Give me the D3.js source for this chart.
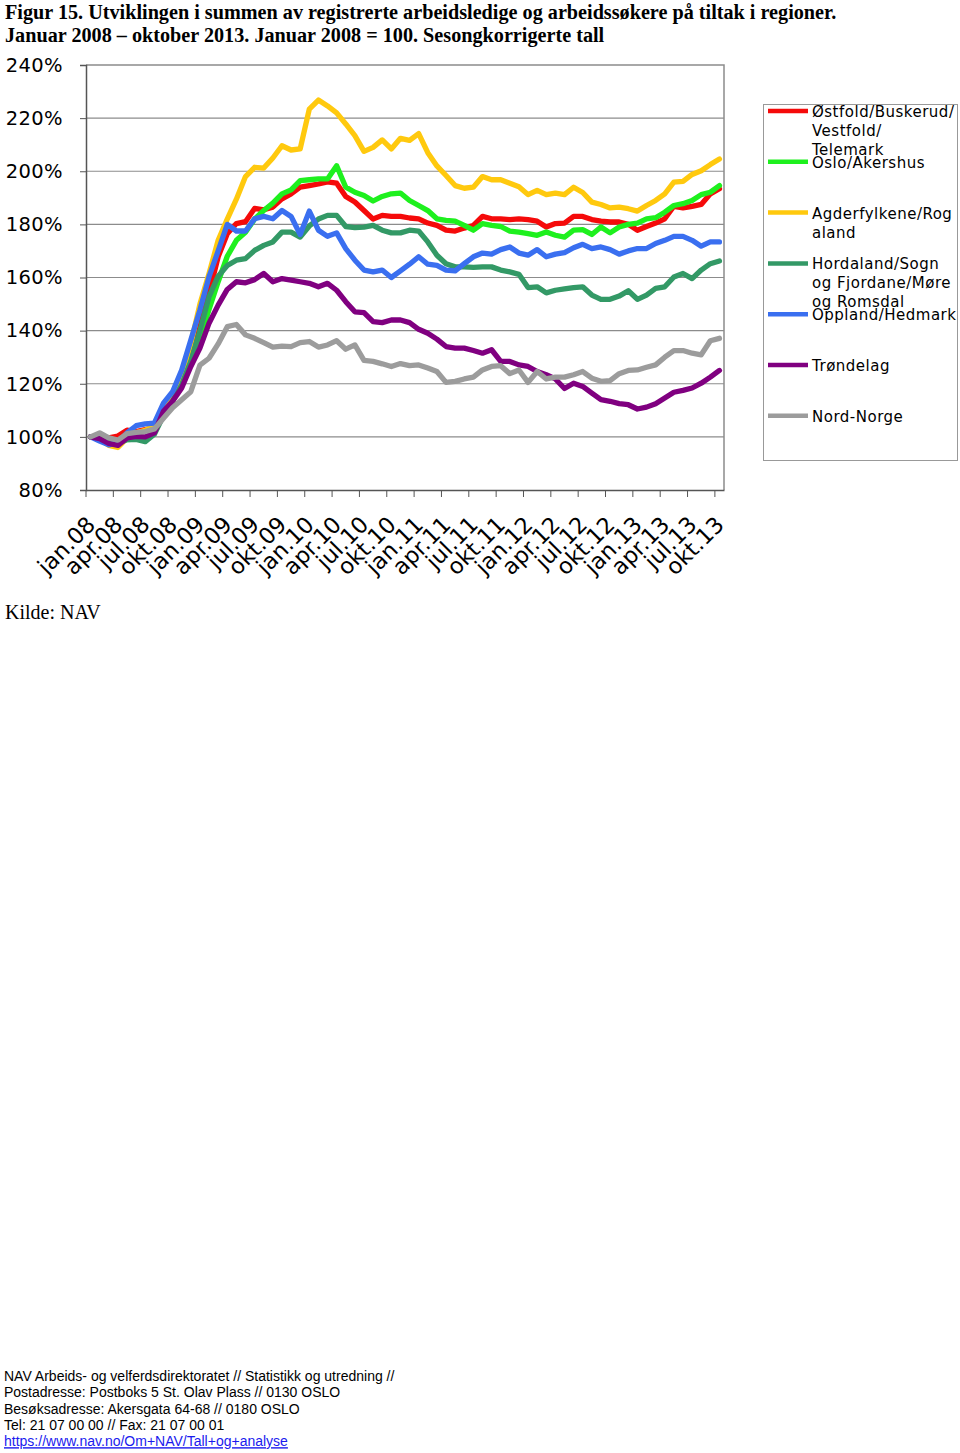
<!DOCTYPE html>
<html>
<head>
<meta charset="utf-8">
<script src="https://cdn.jsdelivr.net/npm/d3@7"></script>
<style>
  html, body { margin: 0; padding: 0; background: #fff; }
  svg { display: block; }
</style>
</head>
<body>
<script>
// ---------- DATA ----------
const monthNames = ["jan","feb","mar","apr","mai","jun","jul","aug","sep","okt","nov","des"];
const categories = [];
for (let yr = 8; yr <= 13; yr++) {
  for (let m = 0; m < 12; m++) {
    if (yr === 13 && m > 9) break;
    categories.push(monthNames[m] + "." + String(yr).padStart(2, "0"));
  }
}
const tickLabels = categories.filter((c, i) => i % 3 === 0);
const yTicks = [80, 100, 120, 140, 160, 180, 200, 220, 240];

const seriesNames = [
  "Østfold/Buskerud/Vestfold/Telemark",
  "Oslo/Akershus",
  "Agderfylkene/Rogaland",
  "Hordaland/Sogn og Fjordane/Møre og Romsdal",
  "Oppland/Hedmark",
  "Trøndelag",
  "Nord-Norge"
];
const legendLabels = [
  ["Østfold/Buskerud/", "Vestfold/", "Telemark"],
  ["Oslo/Akershus"],
  ["Agderfylkene/Rog", "aland"],
  ["Hordaland/Sogn", "og Fjordane/Møre", "og Romsdal"],
  ["Oppland/Hedmark"],
  ["Trøndelag"],
  ["Nord-Norge"]
];
const seriesColors = ["#f50a0a", "#1ef01e", "#ffc90e", "#339966", "#3a6ff0", "#800080", "#9c9c9c"];

const ostfold = [100,99.3,99.6,100.3,102.5,102,102.7,103.4,111,113.4,121.5,131.5,142.8,154,167.8,176.5,180.3,181,186,185.5,186.5,189.6,191.5,194,194.6,195.2,196,195.5,190.5,188.4,185.2,182,183.4,183,183,182.4,182.1,180.5,179.6,177.8,177.5,178.6,179.6,183,182.1,182.1,181.8,182.1,181.8,181.2,179,180.3,180.5,183,183,181.8,181.2,180.9,180.9,180,177.8,179.2,180.5,182.1,186.8,186.2,186.8,187.5,191.5,193.4];
const oslo = [100,99.3,97.5,97.8,99,99.2,99,102,108.4,114,120,128,137,148,158.4,168,174,177,182,185.2,188,191.5,193,196.5,196.8,197.1,197.1,202.1,194,192.1,190.9,188.8,190.5,191.5,191.8,189,187.1,185.2,182.1,181.5,181.2,179.6,177.8,180.3,179.6,179.2,177.5,177.1,176.5,175.9,177.1,175.9,175.2,177.8,178,176.2,179,176.8,179,180,180.5,182.1,182.5,184.6,187.1,187.8,189,191.2,192.1,194.6];
const agder = [100,99.3,96.8,96,99.5,101.5,102.5,104,111,114,123,135,150,161.5,174,182,189.5,198,201.5,201.2,205,209.6,208,208.4,223.4,226.8,224.6,222,217.8,213.4,207.5,209,211.8,208.4,212.4,211.6,214.2,207,202,198.4,194.6,193.6,194,198,196.8,196.8,195.5,194.2,191.2,192.8,191.2,191.8,191.2,194,192,188.4,187.5,186.2,186.5,185.9,185,187.1,189,191.5,195.9,196.2,198.8,200.2,202.5,204.6];
const hordaland = [100,99.3,97.8,97.5,99,99,98.2,101,108,113.5,119.6,128.5,140,152.8,160.5,164.5,166.5,167.1,170.2,172.1,173.4,177.1,177.1,175.2,179.4,182,183.4,183.4,179.2,178.8,179,179.6,177.8,176.8,176.8,177.8,177.5,173.4,168.4,165.2,164,164,163.8,164,164,162.8,162.1,161.2,156.2,156.5,154.2,155.2,155.7,156.2,156.5,153.4,151.8,151.8,153,155,151.8,153.4,155.9,156.5,160.2,161.5,159.6,162.8,165.2,166.2];
const oppland = [100,98.4,97,97.8,101.5,104.2,104.9,105.2,112.7,117,125.2,136.5,147.8,160.3,170,180,177.5,177.5,182.1,183,182.1,185.2,183,176.2,185,177.8,175.5,176.8,170.9,166.5,162.8,162.1,162.8,160,162.5,165,167.8,165,164.6,162.8,162.5,165.2,167.8,169.2,168.8,170.5,171.5,169.2,168.4,170.5,167.8,168.8,169.4,171.2,172.5,170.9,171.5,170.5,168.8,170,170.9,170.9,172.8,174,175.5,175.5,174,171.8,173.4,173.4];
const trondelag = [100,99.3,97.5,96.8,99.6,100.2,100,101.5,109.6,113.4,118.4,126.5,133.4,142.8,149.6,155.5,158.4,158,159.2,161.5,158.4,159.6,159,158.4,157.8,156.5,157.8,155.2,150.9,147.1,146.8,143.4,143,144,144,143,140.5,139,136.8,134,133.4,133.4,132.5,131.5,132.8,128.4,128.4,127.1,126.5,124.6,123.4,121.8,118.2,120.2,119,116.5,114,113.4,112.5,112.1,110.5,111.2,112.5,114.6,116.8,117.5,118.4,120.2,122.5,125];
const nordNorge = [100,101.5,99.6,98.8,101.2,101.7,102,103,107,111,114,117,127,129.6,135,141.5,142.3,138.4,137.1,135.5,133.8,134.2,134,135.5,135.9,133.8,134.6,136.2,133,134.6,128.8,128.4,127.5,126.5,127.6,126.8,127.1,125.9,124.6,120.5,120.9,121.8,122.5,125.2,126.5,126.8,123.8,125.2,120.5,124.6,121.8,122.5,122.5,123.4,124.6,122.1,120.9,121.2,123.8,125,125.2,126.2,127.1,130,132.5,132.5,131.5,130.9,136.2,137.1];

const seriesValues = [ostfold, oslo, agder, hordaland, oppland, trondelag, nordNorge];

const titleLines = [
  "Figur 15. Utviklingen i summen av registrerte arbeidsledige og arbeidssøkere på tiltak i regioner.",
  "Januar 2008 – oktober 2013. Januar 2008 = 100. Sesongkorrigerte tall"
];
const sourceText = "Kilde: NAV";
const footerLines = [
  "NAV Arbeids- og velferdsdirektoratet // Statistikk og utredning //",
  "Postadresse: Postboks 5 St. Olav Plass // 0130 OSLO",
  "Besøksadresse: Akersgata 64-68 // 0180 OSLO",
  "Tel: 21 07 00 00 // Fax: 21 07 00 01"
];
const footerLink = "https://www.nav.no/Om+NAV/Tall+og+analyse";

// ---------- LAYOUT ----------
const W = 960, H = 1453;
const plot = { left: 86, right: 724, top: 65, bottom: 490 };

const svg = d3.select("body").append("svg")
  .attr("width", W).attr("height", H);

// Title
svg.append("g").selectAll("text").data(titleLines).join("text")
  .attr("x", 5).attr("y", (d, i) => 19 + i * 23)
  .attr("font-family", "'Liberation Serif', 'Times New Roman', serif")
  .attr("font-weight", "bold")
  .attr("font-size", 20.2)
  .attr("fill", "#000")
  .text(d => d);

const x = d3.scaleBand().domain(categories).range([plot.left, plot.right]);
const y = d3.scaleLinear().domain([80, 240]).range([plot.bottom, plot.top]);

// Grid lines
svg.append("g").selectAll("line").data(yTicks.filter(v => v > 80 && v < 240)).join("line")
  .attr("x1", plot.left).attr("x2", plot.right)
  .attr("y1", d => y(d)).attr("y2", d => y(d))
  .attr("stroke", "#8c8c8c").attr("stroke-width", 1.2);

// Plot border (top and right)
svg.append("path")
  .attr("d", `M${plot.left},${y(240)}H${plot.right}V${plot.bottom}`)
  .attr("fill", "none").attr("stroke", "#8c8c8c").attr("stroke-width", 1.5);

// Y axis
const yAxis = svg.append("g")
  .attr("transform", `translate(${plot.left},0)`)
  .call(d3.axisLeft(y).tickValues(yTicks).tickSize(6).tickPadding(17).tickFormat(d => d + "%"));
yAxis.select(".domain").attr("stroke", "#555").attr("stroke-width", 1.5);
yAxis.selectAll(".tick line").attr("stroke", "#555");
yAxis.selectAll(".tick text")
  .attr("font-family", "'DejaVu Sans', Verdana, sans-serif")
  .attr("font-size", 19.5)
  .attr("letter-spacing", 0.4)
  .attr("fill", "#000");

// X axis
const xAxis = svg.append("g")
  .attr("transform", `translate(0,${plot.bottom})`)
  .call(d3.axisBottom(x).tickValues(tickLabels).tickSize(7).tickSizeOuter(0));
xAxis.select(".domain").attr("stroke", "#555").attr("stroke-width", 1.5);
xAxis.selectAll(".tick line")
  .attr("stroke", "#555")
  .attr("transform", `translate(${-x.bandwidth() / 2},0)`);
xAxis.selectAll(".tick text")
  .attr("font-family", "'DejaVu Sans', Verdana, sans-serif")
  .attr("font-size", 22.5)
  .attr("fill", "#000")
  .attr("text-anchor", "end")
  .attr("dy", null)
  .attr("y", 0)
  .attr("transform", "translate(6,36) rotate(-45)");

// Lines
const line = d3.line()
  .x((d, i) => x(categories[i]) + x.bandwidth() / 2)
  .y(d => y(d));
svg.append("g").selectAll("path").data(seriesValues).join("path")
  .attr("d", d => line(d))
  .attr("fill", "none")
  .attr("stroke", (d, i) => seriesColors[i])
  .attr("stroke-width", 5.3)
  .attr("stroke-linejoin", "round")
  .attr("stroke-linecap", "round");

// Legend
const lg = svg.append("g");
lg.append("rect")
  .attr("x", 763.5).attr("y", 104.5).attr("width", 194).attr("height", 356)
  .attr("fill", "#fff").attr("stroke", "#999").attr("stroke-width", 1);
const items = lg.selectAll("g.item").data(seriesNames).join("g")
  .attr("class", "item")
  .attr("transform", (d, i) => `translate(0,${111 + i * 50.8})`);
items.append("line")
  .attr("x1", 768).attr("x2", 808).attr("y1", 0).attr("y2", 0)
  .attr("stroke", (d, i) => seriesColors[i]).attr("stroke-width", 4.5);
items.each(function (d, i) {
  d3.select(this).selectAll("text").data(legendLabels[i]).join("text")
    .attr("x", 812).attr("y", (t, k) => 6 + k * 19)
    .attr("font-family", "'DejaVu Sans', Verdana, sans-serif")
    .attr("font-size", 15)
    .attr("letter-spacing", 0.5)
    .attr("fill", "#000")
    .text(t => t);
});

// Source
svg.append("text")
  .attr("x", 5).attr("y", 619)
  .attr("font-family", "'Liberation Serif', 'Times New Roman', serif")
  .attr("font-size", 20)
  .attr("fill", "#000")
  .text(sourceText);

// Footer
const ft = svg.append("g")
  .attr("font-family", "'Liberation Sans', Arial, sans-serif")
  .attr("font-size", 14);
ft.selectAll("text.f").data(footerLines).join("text")
  .attr("class", "f")
  .attr("x", 4).attr("y", (d, i) => 1381 + i * 16.3)
  .attr("fill", "#000")
  .text(d => d);
ft.append("text")
  .attr("x", 4).attr("y", 1381 + 4 * 16.3)
  .attr("fill", "#1a1aee")
  .attr("text-decoration", "underline")
  .text(footerLink);
</script>
</body>
</html>
